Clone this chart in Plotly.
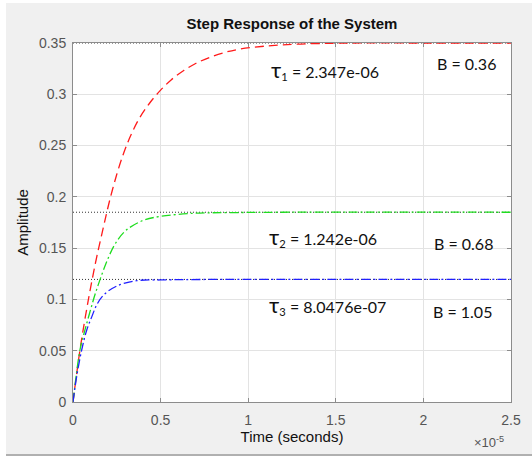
import plotly.graph_objects as go

# time in units of 1e-5 s
t_red = [0, 0.04, 0.087, 0.13, 0.173, 0.207, 0.25, 0.29, 0.33, 0.38, 0.44, 0.5, 0.56, 0.63, 0.7,
         0.78, 0.87, 0.95, 1.1, 1.3, 1.6, 2.0, 2.5]
y_red = [0, 0.051, 0.099, 0.137, 0.170, 0.195, 0.222, 0.243, 0.26, 0.277, 0.292, 0.304, 0.314,
         0.323, 0.330, 0.336, 0.341, 0.344, 0.347, 0.349, 0.35, 0.35, 0.35]

t_green = [0, 0.04, 0.068, 0.097, 0.126, 0.164, 0.2, 0.24, 0.3, 0.4, 0.5, 0.69, 0.9, 1.2, 2.5]
y_green = [0, 0.051, 0.07, 0.088, 0.105, 0.124, 0.14, 0.154, 0.167, 0.177, 0.181, 0.184, 0.1846,
           0.185, 0.185]

t_blue = [0, 0.021, 0.05, 0.078, 0.107, 0.135, 0.173, 0.249, 0.364, 0.5, 0.8, 2.5]
y_blue = [0, 0.025, 0.051, 0.070, 0.083, 0.0946, 0.104, 0.113, 0.1183, 0.119, 0.1195, 0.1195]

final_values = [0.35, 0.185, 0.1195]
tau_labels = ["2.347e-06", "1.242e-06", "8.0476e-07"]
b_labels = ["B = 0.36", "B = 0.68", "B = 1.05"]
x_ticks = [0, 0.5, 1, 1.5, 2, 2.5]
x_tick_text = ["0", "0.5", "1", "1.5", "2", "2.5"]
y_ticks = [0, 0.05, 0.1, 0.15, 0.2, 0.25, 0.3, 0.35]
y_tick_text = ["0", "0.05", "0.1", "0.15", "0.2", "0.25", "0.3", "0.35"]

fig = go.Figure()

# steady-state dotted lines
for fv in final_values:
    fig.add_trace(go.Scatter(x=[0, 2.5], y=[fv, fv], mode="lines",
                             line=dict(color="#333333", width=1, dash="1px,2px"),
                             hoverinfo="skip", showlegend=False))

fig.add_trace(go.Scatter(x=t_red, y=y_red, mode="lines", line_shape="spline",
                         line=dict(color="#ff1a1a", width=1.3, dash="9px,5px"), showlegend=False))
fig.add_trace(go.Scatter(x=t_green, y=y_green, mode="lines", line_shape="spline",
                         line=dict(color="#1fdd1f", width=1.3, dash="9px,3px,2px,3px"), showlegend=False))
fig.add_trace(go.Scatter(x=t_blue, y=y_blue, mode="lines", line_shape="spline",
                         line=dict(color="#1f1fff", width=1.3, dash="9px,3px,2px,3px"), showlegend=False))

ann_font = dict(family="Lato, Open Sans, sans-serif", size=16, color="#111111")
tau_pos = [(1.12, 0.3245), (1.11, 0.1615), (1.11, 0.0955)]
b_pos = [(2.245, 0.3305), (2.23, 0.155), (2.225, 0.088)]
for i in range(3):
    fig.add_annotation(x=tau_pos[i][0], y=tau_pos[i][1], xref="x", yref="y", showarrow=False,
                       xanchor="left", yanchor="middle",
                       text="<span style='font-size:22px'>τ</span><sub>%d</sub> = %s" % (i + 1, tau_labels[i]),
                       font=ann_font)
    fig.add_annotation(x=b_pos[i][0], y=b_pos[i][1], xref="x", yref="y", showarrow=False,
                       xanchor="center", yanchor="middle", text=b_labels[i], font=ann_font)

# figure frame details
W, H = 532, 458
L, R, T, B = 73, 511, 43, 402
def px(x):
    return (x - L) / (R - L)
def py(y):
    return (B - y) / (B - T)

fig.add_annotation(x=px(506), y=py(442), xref="paper", yref="paper", showarrow=False,
                   xanchor="right", yanchor="middle", text="×10<sup>-5</sup>",
                   font=dict(family="Liberation Sans, Arial", size=13, color="#555555"))

fig.add_shape(type="rect", xref="paper", yref="paper", x0=px(0), x1=px(6), y0=py(H), y1=py(0),
              fillcolor="white", line_width=0, layer="below")
fig.add_shape(type="rect", xref="paper", yref="paper", x0=px(0), x1=px(W), y0=py(H), y1=py(455),
              fillcolor="white", line_width=0, layer="below")
fig.add_shape(type="rect", xref="paper", yref="paper", x0=px(0), x1=px(W), y0=py(3), y1=py(0),
              fillcolor="white", line_width=0, layer="below")
fig.add_shape(type="line", xref="paper", yref="paper", x0=px(6), x1=px(W), y0=py(455), y1=py(455),
              line=dict(color="#b0b0b0", width=2), layer="below")

tick_font = dict(family="Liberation Sans, Arial", size=14, color="#555555")
label_font = dict(family="Liberation Sans, Arial", size=15, color="#111111")
axis_common = dict(showgrid=True, gridcolor="#e3e3e3", gridwidth=1, zeroline=False,
                   showline=True, linecolor="#8c8c8c", linewidth=1, mirror="ticks",
                   ticks="inside", ticklen=4, tickcolor="#8c8c8c", tickfont=tick_font)

fig.update_layout(
    width=W, height=H,
    margin=dict(l=L, r=W - R, t=T, b=H - B),
    paper_bgcolor="#f0f0f0", plot_bgcolor="white",
    title=dict(text="<b>Step Response of the System</b>", x=(L + R) / 2 / W, xanchor="center",
               y=1 - 24 / H, yanchor="middle",
               font=dict(family="Liberation Sans, Arial", size=15, color="#111111")),
    xaxis=dict(range=[0, 2.5], tickvals=x_ticks, ticktext=x_tick_text, ticklabelstandoff=5,
               title=dict(text="Time (seconds)", standoff=4, font=label_font),
               **axis_common),
    yaxis=dict(range=[0, 0.35], tickvals=y_ticks, ticktext=y_tick_text, ticklabelstandoff=3,
               title=dict(text="Amplitude", standoff=6, font=label_font),
               **axis_common),
)

fig.write_html("out.html")
